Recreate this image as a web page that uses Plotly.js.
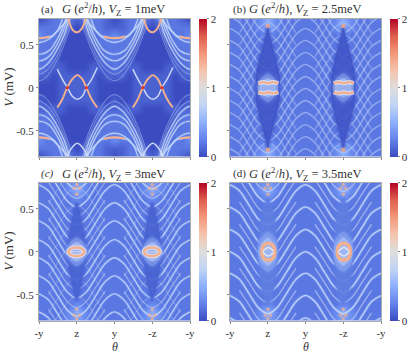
<!DOCTYPE html>
<html>
<head>
<meta charset="utf-8">
<script src="https://cdn.plot.ly/plotly-3.0.1.min.js"></script>
<style>html,body{margin:0;padding:0;background:#fff}</style>
</head>
<body>
<div id="plot" style="width:415px;height:355px"></div>
<script>
// background conductance, top row first, in tenths of e2/h
var baseA = [
[0,1,2,2,2,1,2,2,2,1,0,1,2,2,2,1,2,2,2,1,0],
[2,2,2,2,1,0,1,2,2,1,1,1,2,2,1,0,1,2,2,2,2],
[3,2,2,1,0,0,0,1,2,2,3,2,2,1,0,0,0,1,2,2,3],
[2,2,2,0,0,0,0,0,2,2,2,2,2,0,0,0,0,0,2,2,2],
[2,2,1,0,0,0,0,0,1,2,2,2,1,0,0,0,0,0,1,2,2],
[2,2,1,0,0,0,0,0,1,2,2,2,1,0,0,0,0,0,1,2,2],
[2,1,1,1,0,0,0,1,1,1,2,1,1,1,0,0,0,1,1,1,2],
[1,1,0,1,1,1,1,1,0,1,1,1,0,1,1,1,1,1,0,1,1],
[0,0,0,1,1,1,1,1,0,0,0,0,0,1,1,1,1,1,0,0,0],
[0,0,0,1,1,1,1,1,0,0,0,0,0,1,1,1,1,1,0,0,0],
[1,0,0,1,1,1,1,1,0,0,1,0,0,1,1,1,1,1,0,0,1],
[1,1,1,1,0,0,0,1,1,1,1,1,1,1,0,0,0,1,1,1,1],
[2,2,1,0,0,0,0,0,1,2,2,2,1,0,0,0,0,0,1,2,2],
[2,2,1,0,0,0,0,0,1,2,2,2,1,0,0,0,0,0,1,2,2],
[2,2,2,0,0,0,0,0,2,2,2,2,2,0,0,0,0,0,2,2,2],
[3,2,2,1,0,0,0,1,2,2,3,2,2,1,0,0,0,1,2,2,3],
[2,2,2,2,1,0,1,2,2,1,1,1,2,2,1,0,1,2,2,2,2],
[0,1,2,2,2,1,2,2,2,1,0,1,2,2,2,1,2,2,2,1,0]
];
var baseB = [
[2,2,2,2,3,5,3,2,2,2,2,2,2,2,3,5,3,2,2,2,2],
[2,2,2,2,3,5,3,2,2,2,2,2,2,2,3,5,3,2,2,2,2],
[2,2,2,2,2,3,2,2,2,2,2,2,2,2,2,3,2,2,2,2,2],
[2,2,2,2,2,2,2,2,2,2,2,2,2,2,2,2,2,2,2,2,2],
[2,2,2,2,2,2,2,2,2,2,2,2,2,2,2,2,2,2,2,2,2],
[2,2,2,2,2,2,2,2,2,2,2,2,2,2,2,2,2,2,2,2,2],
[2,2,2,2,2,2,2,2,2,2,2,2,2,2,2,2,2,2,2,2,2],
[2,2,2,2,2,2,2,2,2,2,2,2,2,2,2,2,2,2,2,2,2],
[2,2,2,2,3,3,3,2,2,2,2,2,2,2,3,3,3,2,2,2,2],
[2,2,2,2,3,3,3,2,2,2,2,2,2,2,3,3,3,2,2,2,2],
[2,2,2,2,2,2,2,2,2,2,2,2,2,2,2,2,2,2,2,2,2],
[2,2,2,2,2,2,2,2,2,2,2,2,2,2,2,2,2,2,2,2,2],
[2,2,2,2,2,2,2,2,2,2,2,2,2,2,2,2,2,2,2,2,2],
[2,2,2,2,2,2,2,2,2,2,2,2,2,2,2,2,2,2,2,2,2],
[2,2,2,2,2,2,2,2,2,2,2,2,2,2,2,2,2,2,2,2,2],
[2,2,2,2,2,3,2,2,2,2,2,2,2,2,2,3,2,2,2,2,2],
[2,2,2,2,3,5,3,2,2,2,2,2,2,2,3,5,3,2,2,2,2],
[2,2,2,2,3,5,3,2,2,2,2,2,2,2,3,5,3,2,2,2,2]
];
var baseC = [
[2,2,2,2,3,4,3,2,2,2,2,2,2,2,3,4,3,2,2,2,2],
[2,2,2,2,3,5,3,2,2,2,2,2,2,2,3,5,3,2,2,2,2],
[2,2,2,2,2,3,2,2,2,2,2,2,2,2,2,3,2,2,2,2,2],
[2,2,2,2,2,2,2,2,2,2,2,2,2,2,2,2,2,2,2,2,2],
[2,2,2,2,2,2,2,2,2,2,2,2,2,2,2,2,2,2,2,2,2],
[2,2,2,2,2,2,2,2,2,2,2,2,2,2,2,2,2,2,2,2,2],
[2,2,2,2,2,2,2,2,2,2,2,2,2,2,2,2,2,2,2,2,2],
[2,2,2,2,2,2,2,2,2,2,2,2,2,2,2,2,2,2,2,2,2],
[2,2,2,2,2,3,2,2,2,2,2,2,2,2,2,3,2,2,2,2,2],
[2,2,2,2,2,3,2,2,2,2,2,2,2,2,2,3,2,2,2,2,2],
[2,2,2,2,2,2,2,2,2,2,2,2,2,2,2,2,2,2,2,2,2],
[2,2,2,2,2,2,2,2,2,2,2,2,2,2,2,2,2,2,2,2,2],
[2,2,2,2,2,2,2,2,2,2,2,2,2,2,2,2,2,2,2,2,2],
[2,2,2,2,2,2,2,2,2,2,2,2,2,2,2,2,2,2,2,2,2],
[2,2,2,2,2,2,2,2,2,2,2,2,2,2,2,2,2,2,2,2,2],
[2,2,2,2,2,3,2,2,2,2,2,2,2,2,2,3,2,2,2,2,2],
[2,2,2,2,3,5,3,2,2,2,2,2,2,2,3,5,3,2,2,2,2],
[2,2,2,2,3,4,3,2,2,2,2,2,2,2,3,4,3,2,2,2,2]
];
var baseD = baseC;

// ridge positions V (mV) read at thetaKnots
var thetaKnots = [0,.25,.5,.75,1,1.25,1.5,1.75,2,2.25,2.5,2.75,3,3.25,3.5,3.75,4];

var wavesB = [
[1.11,1.04,.875,.71,.64,.71,.875,1.04,1.11,1.04,.875,.71,.64,.71,.875,1.04,1.11],
[.97,.9,.735,.57,.5,.57,.735,.9,.97,.9,.735,.57,.5,.57,.735,.9,.97],
[.83,.76,.595,.43,.36,.43,.595,.76,.83,.76,.595,.43,.36,.43,.595,.76,.83],
[.69,.62,.455,.29,.22,.29,.455,.62,.69,.62,.455,.29,.22,.29,.455,.62,.69],
[.55,.48,.315,.15,.08,.15,.315,.48,.55,.48,.315,.15,.08,.15,.315,.48,.55],
[.41,.34,.175,.01,-.06,.01,.175,.34,.41,.34,.175,.01,-.06,.01,.175,.34,.41],
[.27,.2,.035,-.13,-.2,-.13,.035,.2,.27,.2,.035,-.13,-.2,-.13,.035,.2,.27],
[.13,.06,-.105,-.27,-.34,-.27,-.105,.06,.13,.06,-.105,-.27,-.34,-.27,-.105,.06,.13],
[-.01,-.08,-.245,-.41,-.48,-.41,-.245,-.08,-.01,-.08,-.245,-.41,-.48,-.41,-.245,-.08,-.01],
[-.15,-.22,-.385,-.55,-.62,-.55,-.385,-.22,-.15,-.22,-.385,-.55,-.62,-.55,-.385,-.22,-.15],
[-.29,-.36,-.525,-.69,-.76,-.69,-.525,-.36,-.29,-.36,-.525,-.69,-.76,-.69,-.525,-.36,-.29],
[-.43,-.5,-.665,-.83,-.9,-.83,-.665,-.5,-.43,-.5,-.665,-.83,-.9,-.83,-.665,-.5,-.43],
[-.57,-.64,-.805,-.97,-1.04,-.97,-.805,-.64,-.57,-.64,-.805,-.97,-1.04,-.97,-.805,-.64,-.57],
[-.71,-.78,-.945,-1.11,-1.18,-1.11,-.945,-.78,-.71,-.78,-.945,-1.11,-1.18,-1.11,-.945,-.78,-.71]
];
var crossB = [
[null,-1.04,-.875,-.71,-.64,-.71,-.875,-1.04,null,-1.04,-.875,-.71,-.64,-.71,-.875,-1.04,null],
[null,-.9,-.735,-.57,-.5,-.57,-.735,-.9,null,-.9,-.735,-.57,-.5,-.57,-.735,-.9,null],
[null,-.76,-.595,-.43,-.36,-.43,-.595,-.76,null,-.76,-.595,-.43,-.36,-.43,-.595,-.76,null],
[null,-.62,-.455,-.29,-.22,-.29,-.455,-.62,null,-.62,-.455,-.29,-.22,-.29,-.455,-.62,null],
[null,-.48,-.315,-.15,-.08,-.15,-.315,-.48,null,-.48,-.315,-.15,-.08,-.15,-.315,-.48,null],
[null,-.34,-.175,-.01,.06,-.01,-.175,-.34,null,-.34,-.175,-.01,.06,-.01,-.175,-.34,null],
[null,-.2,-.035,.13,.2,.13,-.035,-.2,null,-.2,-.035,.13,.2,.13,-.035,-.2,null],
[null,-.06,.105,.27,.34,.27,.105,-.06,null,-.06,.105,.27,.34,.27,.105,-.06,null],
[null,.08,.245,.41,.48,.41,.245,.08,null,.08,.245,.41,.48,.41,.245,.08,null],
[null,.22,.385,.55,.62,.55,.385,.22,null,.22,.385,.55,.62,.55,.385,.22,null],
[null,.36,.525,.69,.76,.69,.525,.36,null,.36,.525,.69,.76,.69,.525,.36,null],
[null,.5,.665,.83,.9,.83,.665,.5,null,.5,.665,.83,.9,.83,.665,.5,null],
[null,.64,.805,.97,1.04,.97,.805,.64,null,.64,.805,.97,1.04,.97,.805,.64,null],
[null,.78,.945,1.11,1.18,1.11,.945,.78,null,.78,.945,1.11,1.18,1.11,.945,.78,null]
];
var wavesC = [
[1.2,1.13,.965,.8,.73,.8,.965,1.13,1.2,1.13,.965,.8,.73,.8,.965,1.13,1.2],
[.99,.92,.755,.59,.52,.59,.755,.92,.99,.92,.755,.59,.52,.59,.755,.92,.99],
[.78,.71,.545,.38,.31,.38,.545,.71,.78,.71,.545,.38,.31,.38,.545,.71,.78],
[.57,.5,.335,.17,.1,.17,.335,.5,.57,.5,.335,.17,.1,.17,.335,.5,.57],
[.36,.29,.125,-.04,-.11,-.04,.125,.29,.36,.29,.125,-.04,-.11,-.04,.125,.29,.36],
[.14,.07,-.095,-.26,-.33,-.26,-.095,.07,.14,.07,-.095,-.26,-.33,-.26,-.095,.07,.14],
[-.07,-.14,-.305,-.47,-.54,-.47,-.305,-.14,-.07,-.14,-.305,-.47,-.54,-.47,-.305,-.14,-.07],
[-.28,-.35,-.515,-.68,-.75,-.68,-.515,-.35,-.28,-.35,-.515,-.68,-.75,-.68,-.515,-.35,-.28],
[-.49,-.56,-.725,-.89,-.96,-.89,-.725,-.56,-.49,-.56,-.725,-.89,-.96,-.89,-.725,-.56,-.49],
[-.7,-.77,-.935,-1.1,-1.17,-1.1,-.935,-.77,-.7,-.77,-.935,-1.1,-1.17,-1.1,-.935,-.77,-.7]
];
// extra ridges that only show on the flanks, between the main waves
var flankC = [
[null,1.02,.855,.69,.62,.69,.855,1.02,null,1.02,.855,.69,.62,.69,.855,1.02,null],
[null,.81,.645,.48,.41,.48,.645,.81,null,.81,.645,.48,.41,.48,.645,.81,null],
[null,.6,.435,.27,.2,.27,.435,.6,null,.6,.435,.27,.2,.27,.435,.6,null],
[null,.39,.225,.06,-.01,.06,.225,.39,null,.39,.225,.06,-.01,.06,.225,.39,null],
[null,.18,.015,-.15,-.22,-.15,.015,.18,null,.18,.015,-.15,-.22,-.15,.015,.18,null],
[null,-.04,-.205,-.37,-.44,-.37,-.205,-.04,null,-.04,-.205,-.37,-.44,-.37,-.205,-.04,null],
[null,-.25,-.415,-.58,-.65,-.58,-.415,-.25,null,-.25,-.415,-.58,-.65,-.58,-.415,-.25,null],
[null,-.46,-.625,-.79,-.86,-.79,-.625,-.46,null,-.46,-.625,-.79,-.86,-.79,-.625,-.46,null],
[null,-.67,-.835,-1,-1.07,-1,-.835,-.67,null,-.67,-.835,-1,-1.07,-1,-.835,-.67,null]
];
var crossC = [
[null,-.92,-.755,-.59,-.52,-.59,-.755,-.92,null,-.92,-.755,-.59,-.52,-.59,-.755,-.92,null],
[null,-.71,-.545,-.38,-.31,-.38,-.545,-.71,null,-.71,-.545,-.38,-.31,-.38,-.545,-.71,null],
[null,-.5,-.335,-.17,-.1,-.17,-.335,-.5,null,-.5,-.335,-.17,-.1,-.17,-.335,-.5,null],
[null,-.29,-.125,.04,.11,.04,-.125,-.29,null,-.29,-.125,.04,.11,.04,-.125,-.29,null],
[null,-.07,.095,.26,.33,.26,.095,-.07,null,-.07,.095,.26,.33,.26,.095,-.07,null],
[null,.14,.305,.47,.54,.47,.305,.14,null,.14,.305,.47,.54,.47,.305,.14,null],
[null,.35,.515,.68,.75,.68,.515,.35,null,.35,.515,.68,.75,.68,.515,.35,null],
[null,.56,.725,.89,.96,.89,.725,.56,null,.56,.725,.89,.96,.89,.725,.56,null]
];
var wavesD = [
[1.04,.97,.805,.64,.57,.64,.805,.97,1.04,.97,.805,.64,.57,.64,.805,.97,1.04],
[.78,.71,.545,.38,.31,.38,.545,.71,.78,.71,.545,.38,.31,.38,.545,.71,.78],
[.52,.45,.285,.12,.05,.12,.285,.45,.52,.45,.285,.12,.05,.12,.285,.45,.52],
[.26,.19,.025,-.14,-.21,-.14,.025,.19,.26,.19,.025,-.14,-.21,-.14,.025,.19,.26],
[0,-.07,-.235,-.4,-.47,-.4,-.235,-.07,0,-.07,-.235,-.4,-.47,-.4,-.235,-.07,0],
[-.25,-.32,-.485,-.65,-.72,-.65,-.485,-.32,-.25,-.32,-.485,-.65,-.72,-.65,-.485,-.32,-.25],
[-.51,-.58,-.745,-.91,-.98,-.91,-.745,-.58,-.51,-.58,-.745,-.91,-.98,-.91,-.745,-.58,-.51],
[-.77,-.84,-1.005,-1.17,-1.24,-1.17,-1.005,-.84,-.77,-.84,-1.005,-1.17,-1.24,-1.17,-1.005,-.84,-.77]
];
var flankD = [
[null,1.1,.935,.77,.7,.77,.935,1.1,null,1.1,.935,.77,.7,.77,.935,1.1,null],
[null,.84,.675,.51,.44,.51,.675,.84,null,.84,.675,.51,.44,.51,.675,.84,null],
[null,.58,.415,.25,.18,.25,.415,.58,null,.58,.415,.25,.18,.25,.415,.58,null],
[null,.32,.155,-.01,-.08,-.01,.155,.32,null,.32,.155,-.01,-.08,-.01,.155,.32,null],
[null,.06,-.105,-.27,-.34,-.27,-.105,.06,null,.06,-.105,-.27,-.34,-.27,-.105,.06,null],
[null,-.19,-.355,-.52,-.59,-.52,-.355,-.19,null,-.19,-.355,-.52,-.59,-.52,-.355,-.19,null],
[null,-.45,-.615,-.78,-.85,-.78,-.615,-.45,null,-.45,-.615,-.78,-.85,-.78,-.615,-.45,null],
[null,-.71,-.875,-1.04,-1.11,-1.04,-.875,-.71,null,-.71,-.875,-1.04,-1.11,-1.04,-.875,-.71,null]
];

// panel (a): arcs around y (theta = 2), the same set sits around 0 and 4
var archesA = [
[[1.24,1.47,1.65,1.82,2,2.18,2.35,2.53,2.76],[.8,.68,.605,.585,.578,.585,.605,.68,.8]],
[[1.38,1.515,1.735,2,2.265,2.485,2.62],[.8,.66,.567,.528,.567,.66,.8]],
[[1.29,1.34,1.515,1.735,2,2.265,2.485,2.66,2.71],[.8,.74,.567,.43,.39,.43,.567,.74,.8]],
[[1.25,1.29,1.515,1.735,2,2.265,2.485,2.71,2.75],[.8,.74,.508,.364,.314,.364,.508,.74,.8]],
[[1.205,1.34,1.56,1.78,2,2.22,2.44,2.66,2.795],[.8,.605,.41,.275,.216,.275,.41,.605,.8]],
[[1.24,1.47,1.65,1.82,2,2.18,2.35,2.53,2.76],[-.8,-.68,-.605,-.585,-.578,-.585,-.605,-.68,-.8]],
[[1.38,1.515,1.735,2,2.265,2.485,2.62],[-.8,-.66,-.567,-.528,-.567,-.66,-.8]],
[[1.29,1.34,1.515,1.735,2,2.265,2.485,2.66,2.71],[-.8,-.74,-.567,-.43,-.39,-.43,-.567,-.74,-.8]],
[[1.25,1.29,1.515,1.735,2,2.265,2.485,2.71,2.75],[-.8,-.74,-.508,-.364,-.314,-.364,-.508,-.74,-.8]],
[[1.205,1.34,1.56,1.78,2,2.22,2.44,2.66,2.795],[-.8,-.605,-.41,-.275,-.216,-.275,-.41,-.605,-.8]]
];
var faintA = [
[[1.16,1.34,1.56,1.78,2,2.22,2.44,2.66,2.84],[.8,.547,.34,.209,.158,.209,.34,.547,.8]],
[[1.16,1.38,1.6,1.82,2,2.18,2.4,2.62,2.84],[.72,.45,.255,.12,.08,.12,.255,.45,.72]],
[[1.16,1.34,1.56,1.78,2,2.22,2.44,2.66,2.84],[-.8,-.547,-.34,-.209,-.158,-.209,-.34,-.547,-.8]],
[[1.16,1.38,1.6,1.82,2,2.18,2.4,2.62,2.84],[-.72,-.45,-.255,-.12,-.08,-.12,-.255,-.45,-.72]]
];
var orangeA = [
[[1.73,1.85,2,2.15,2.27],[.595,.582,.578,.582,.595]],
[[1.73,1.85,2,2.15,2.27],[-.595,-.582,-.578,-.582,-.595]]
];
// panel (a): features around z (theta = 1), the same set sits around 3
var archZA = [[[.486,.618,.75,.883,1.015,1.148,1.254,1.395,1.545],[-.23,-.134,.003,.1,.147,.1,.003,-.134,-.23]]];
var dipZA = [
[[.486,.618,.75,.883,1.015,1.148,1.254,1.395,1.545],[.216,.1,.003,-.1,-.134,-.1,.003,.1,.236]],
[[.75,.84,1.015,1.19,1.28],[-.8,-.717,-.647,-.717,-.8]]
];
var capZA = [[[.78,.88,1,1.12,1.24],[.8,.68,.645,.68,.8]]];
var crossThetaA = [.75,1.254,2.75,3.254];
var crossVA = [0,0,0,0];

// the clear spindles around z in (b), (c), (d)
var spindleB = [[1,.91,.82,.69,.67,.69,.82,.91,1,1.09,1.18,1.31,1.33,1.31,1.18,1.09,1],[.72,.55,.41,.16,0,-.16,-.41,-.55,-.72,-.55,-.41,-.16,0,.16,.41,.55,.72]];
var spindleC = [[1,.85,.78,.74,.78,.85,1,1.15,1.22,1.26,1.22,1.15,1],[.57,.33,.14,0,-.14,-.33,-.57,-.33,-.14,0,.14,.33,.57]];
var spindleD = [[1,.82,.78,.75,.78,.82,1,1.18,1.22,1.25,1.22,1.18,1],[.62,.41,.22,0,-.22,-.41,-.62,-.41,-.22,0,.22,.41,.62]];
var glowWide = [[.72,.8,1,1.2,1.28,1.2,1,.8,.72],[0,.1,.17,.1,0,-.1,-.17,-.1,0]];
var glowNear = [[.78,.85,1,1.15,1.22,1.15,1,.85,.78],[0,.07,.11,.07,0,-.07,-.11,-.07,0]];
var glowWideD = [[.74,.8,1,1.2,1.26,1.2,1,.8,.74],[0,.15,.23,.15,0,-.15,-.23,-.15,0]];
var glowNearD = [[.79,.85,1,1.15,1.21,1.15,1,.85,.79],[0,.1,.16,.1,0,-.1,-.16,-.1,0]];

// the orange loops at V = 0 around z
var outerB = [
[[.75,.88,1.015,1.148,1.28],[.05,.065,.052,.065,.05]],
[[.75,.88,1.015,1.148,1.28],[-.05,-.065,-.052,-.065,-.05]]
];
var outerC = [[[.78,.86,.99,1.12,1.2,1.12,.99,.86,.78],[0,.04,.05,.04,0,-.04,-.05,-.04,0]]];
var innerC = [[[.84,.99,1.14],[0,0,0]]];
var outerD = [
[[.84,.88,1.015,1.15,1.19],[0,.068,.097,.068,0]],
[[.84,.88,1.015,1.15,1.19],[0,-.068,-.097,-.068,0]]
];
var innerD = [
[[.87,1.015,1.16],[.005,.05,.005]],
[[.87,1.015,1.16],[-.005,-.05,-.005]]
];
var spotTheta = [.93,1,1.07,1,2.93,3,3.07,3,.93,1,1.07,1,2.93,3,3.07,3];
var spotV = [.74,.78,.74,.67,.74,.78,.74,.67,-.74,-.78,-.74,-.67,-.74,-.78,-.74,-.67];

var thetaVals = [0, 1, 2, 3, 4];
var thetaText = ["-y", "z", "y", "-z", "-y"];
var vVals = [-0.5, 0, 0.5];
var vText = ["-0.5", "0", "0.5"];
var cbVals = [0, 1, 2];

var labels = ["(a)", "(b)", "<i>(c)</i>", "(d)"];
var titles = [
  "<i>G</i> (<i>e</i><sup>2</sup>/<i>h</i>), <i>V</i><sub>Z</sub> = 1meV",
  "<i>G</i> (<i>e</i><sup>2</sup>/<i>h</i>), <i>V</i><sub>Z</sub> = 2.5meV",
  "<i>G</i> (<i>e</i><sup>2</sup>/<i>h</i>), <i>V</i><sub>Z</sub> = 3meV",
  "<i>G</i> (<i>e</i><sup>2</sup>/<i>h</i>), <i>V</i><sub>Z</sub> = 3.5meV"
];

// matplotlib coolwarm
var coolwarm = [
  [0, "rgb(59,76,192)"], [0.125, "rgb(98,130,234)"], [0.25, "rgb(141,176,254)"],
  [0.375, "rgb(192,212,245)"], [0.5, "rgb(221,221,221)"], [0.625, "rgb(245,196,173)"],
  [0.75, "rgb(244,152,122)"], [0.875, "rgb(222,96,77)"], [1, "rgb(180,4,38)"]
];
var white = "rgba(208,222,250,0.8)";
var dim = "rgba(190,210,250,0.4)";
var orange = "rgb(244,175,140)";
var halo = "rgba(140,175,250,0.3)";

var W = 415, H = 355;
var serif = "Liberation Serif, DejaVu Serif, serif";
var panels = [
  {g: baseA, left: 39, top: 19, cb: 199, tx: 60, lx: 39},
  {g: baseB, left: 230, top: 19, cb: 390, tx: 247, lx: 231},
  {g: baseC, left: 39, top: 183, cb: 199, tx: 60, lx: 39},
  {g: baseD, left: 230, top: 183, cb: 390, tx: 247, lx: 231}
];
var pw = 151, ph = 137.5;
var axisFont = {family: serif, size: 11, color: "#333"};

var data = [];
var layout = {
  width: W, height: H,
  margin: {l: 0, r: 0, t: 0, b: 0, autoexpand: false},
  paper_bgcolor: "#fff",
  font: axisFont,
  showlegend: false,
  annotations: []
};

function sfx(i) { return i === 0 ? "" : String(i + 1); }

// join several ridges into one line trace, repeated at each theta shift
function addRidges(i, ridges, shifts, color, width) {
  var xs = [], ys = [];
  shifts.forEach(function (s) {
    ridges.forEach(function (r) {
      r[0].forEach(function (t, k) { xs.push(t + s); ys.push(r[1][k]); });
      xs.push(null); ys.push(null);
    });
  });
  data.push({
    type: "scatter", mode: "lines", x: xs, y: ys,
    xaxis: "x" + sfx(i), yaxis: "y" + sfx(i),
    line: {color: color, width: width, shape: "spline", smoothing: 0.9},
    hoverinfo: "skip"
  });
}
function addWaves(i, waves, color, width) {
  addRidges(i, waves.map(function (w) { return [thetaKnots, w]; }), [0], color, width);
}
function addPatch(i, shape, edge, fill) {
  [0, 2].forEach(function (s) {
    data.push({
      type: "scatter", mode: "lines",
      x: shape[0].map(function (t) { return t + s; }), y: shape[1],
      xaxis: "x" + sfx(i), yaxis: "y" + sfx(i),
      fill: "toself", fillcolor: fill,
      line: {color: edge, width: 4, shape: "spline", smoothing: 0.8},
      hoverinfo: "skip"
    });
  });
}
function addSpots(i, xs, ys, color, size) {
  data.push({
    type: "scatter", mode: "markers", x: xs, y: ys,
    xaxis: "x" + sfx(i), yaxis: "y" + sfx(i),
    marker: {color: color, size: size},
    hoverinfo: "skip"
  });
}

panels.forEach(function (p, i) {
  var s = sfx(i);
  var bottomRow = i >= 2;
  var leftCol = i % 2 === 0;

  data.push({
    type: "heatmap",
    z: p.g.map(function (row) { return row.map(function (d) { return d / 10; }); }),
    x0: 0, dx: 0.2,
    y0: 0.8, dy: -1.6 / 17,
    xaxis: "x" + s, yaxis: "y" + s,
    zmin: 0, zmax: 2,
    zsmooth: "best",
    colorscale: coolwarm,
    colorbar: {
      x: p.cb / W, xanchor: "left", xpad: 0,
      y: 1 - (p.top + ph / 2) / H, yanchor: "middle", ypad: 0,
      len: ph / H, lenmode: "fraction",
      thickness: 8, outlinewidth: 0,
      tickmode: "array", tickvals: cbVals, ticktext: ["0", "1", "2"],
      ticks: "outside", ticklen: 2, tickcolor: "#888",
      tickfont: axisFont
    }
  });

  layout["xaxis" + s] = {
    domain: [p.left / W, (p.left + pw) / W],
    range: [0, 4],
    anchor: "y" + s,
    tickmode: "array", tickvals: thetaVals, ticktext: thetaText,
    showticklabels: bottomRow,
    ticks: "outside", ticklen: 2, tickcolor: "#888",
    showline: true, mirror: true, linecolor: "#aaa", linewidth: 1,
    showgrid: false, zeroline: false,
    tickfont: axisFont
  };
  layout["yaxis" + s] = {
    domain: [1 - (p.top + ph) / H, 1 - p.top / H],
    range: [-0.8, 0.8],
    anchor: "x" + s,
    tickmode: "array", tickvals: vVals, ticktext: vText,
    showticklabels: leftCol,
    ticks: "outside", ticklen: 2, tickcolor: "#888",
    showline: true, mirror: true, linecolor: "#aaa", linewidth: 1,
    showgrid: false, zeroline: false,
    tickfont: axisFont
  };

  layout.annotations.push({
    xref: "paper", yref: "paper", x: p.lx / W, y: 1 - (p.top - 9.5) / H,
    xanchor: "left", yanchor: "middle", showarrow: false, text: labels[i],
    font: axisFont
  });
  layout.annotations.push({
    xref: "paper", yref: "paper", x: p.tx / W, y: 1 - (p.top - 9.5) / H,
    xanchor: "left", yanchor: "middle", showarrow: false, text: titles[i],
    font: {family: serif, size: 12.5, color: "#333"}
  });
  if (leftCol) {
    layout.annotations.push({
      xref: "paper", yref: "paper", x: 9 / W, y: 1 - (p.top + ph / 2) / H,
      xanchor: "center", yanchor: "middle", textangle: -90, showarrow: false,
      text: "<i>V</i> (mV)", font: {family: serif, size: 13, color: "#333"}
    });
  }
  if (bottomRow) {
    layout.annotations.push({
      xref: "paper", yref: "paper", x: (p.left + pw / 2) / W, y: 1 - 347 / H,
      xanchor: "center", yanchor: "middle", showarrow: false,
      text: "<i>θ</i>", font: {family: serif, size: 12, color: "#333"}
    });
  }
});

// panel (a)
addRidges(0, archesA, [-2, 0, 2], halo, 3);
addRidges(0, archesA, [-2, 0, 2], white, 1.2);
addRidges(0, faintA, [-2, 0, 2], dim, 1.1);
addRidges(0, orangeA, [-2, 0, 2], orange, 2.2);
addRidges(0, dipZA, [0, 2], "rgba(215,226,250,0.9)", 1.5);
addRidges(0, archZA, [0, 2], orange, 1.9);
addRidges(0, capZA, [0, 2], orange, 1.9);
addSpots(0, crossThetaA, crossVA, "rgb(214,60,50)", 3.5);

// panel (b)
addWaves(1, crossB, "rgba(190,210,250,0.38)", 1.6);
addWaves(1, wavesB, "rgba(200,216,250,0.5)", 1.6);
addPatch(1, spindleB, "rgba(64,84,198,0.35)", "rgba(64,84,198,0.88)");
addPatch(1, glowWide, "rgba(150,180,250,0.15)", "rgba(150,180,250,0.45)");
addPatch(1, glowNear, "rgba(190,210,250,0.2)", "rgba(190,210,250,0.55)");
addRidges(1, outerB, [0, 2], "rgba(225,232,250,0.8)", 4.5);
addRidges(1, outerB, [0, 2], orange, 2.4);
addSpots(1, [1, 3, 1, 3], [.72, .72, -.72, -.72], "rgba(245,170,130,0.8)", 4.5);

// panel (c)
addWaves(2, crossC, "rgba(190,210,250,0.3)", 1.2);
addWaves(2, flankC, "rgba(208,222,250,0.5)", 1.3);
addWaves(2, wavesC, halo, 3);
addWaves(2, wavesC, white, 1.3);
addPatch(2, spindleC, "rgba(72,98,208,0.35)", "rgba(72,98,208,0.9)");
addPatch(2, glowWide, "rgba(150,180,250,0.15)", "rgba(150,180,250,0.45)");
addPatch(2, glowNear, "rgba(190,210,250,0.2)", "rgba(190,210,250,0.55)");
addRidges(2, outerC, [0, 2], "rgba(225,232,250,0.8)", 4.5);
addRidges(2, outerC, [0, 2], orange, 2.4);
addRidges(2, innerC, [0, 2], "rgb(215,218,225)", 1.2);
addSpots(2, spotTheta, spotV, "rgba(245,175,140,0.7)", 3.5);

// panel (d)
addWaves(3, flankD, "rgba(208,222,250,0.55)", 1.4);
addWaves(3, wavesD, halo, 3.5);
addWaves(3, wavesD, white, 1.5);
addPatch(3, spindleD, "rgba(95,125,225,0.35)", "rgba(95,125,225,0.9)");
addPatch(3, glowWideD, "rgba(150,180,250,0.15)", "rgba(150,180,250,0.45)");
addPatch(3, glowNearD, "rgba(190,210,250,0.2)", "rgba(190,210,250,0.55)");
addRidges(3, outerD, [0, 2], orange, 3.4);
addRidges(3, innerD, [0, 2], "rgb(230,232,240)", 1.5);
addSpots(3, spotTheta, spotV, "rgba(245,175,140,0.7)", 3.5);

Plotly.newPlot("plot", data, layout, {displayModeBar: false});
</script>
</body>
</html>
